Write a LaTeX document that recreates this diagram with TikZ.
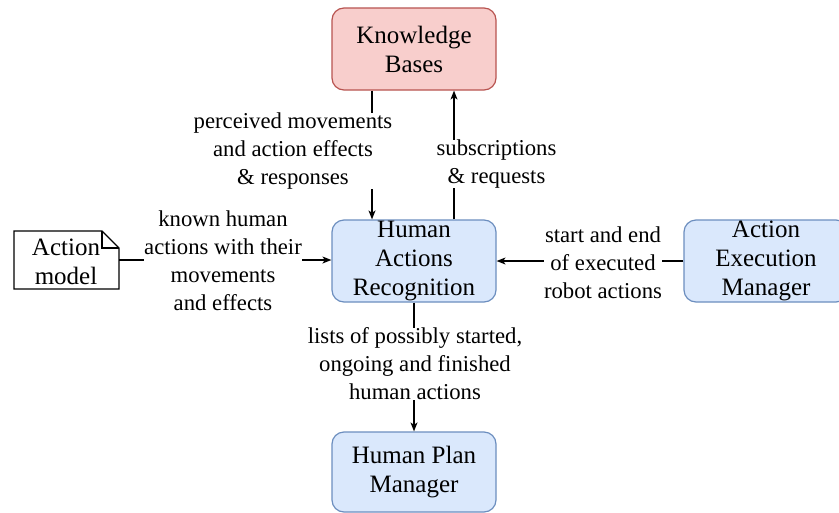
\documentclass[tikz,border=0pt]{standalone}
\usepackage{fontspec}
\setmainfont{LiberationSerif}[Extension=.ttf, UprightFont=*-Regular, BoldFont=*-Bold, ItalicFont=*-Italic, BoldItalicFont=*-BoldItalic]
\usetikzlibrary{arrows.meta}
\tikzset{
  box/.style={rectangle, rounded corners=12pt, minimum width=164pt, minimum height=82pt, align=center, inner sep=0pt, line width=1.2pt, font=\rmfamily\fontsize{25}{29}\selectfont},
  redbox/.style={box, draw={rgb,255:red,184;green,84;blue,80}, fill={rgb,255:red,248;green,206;blue,204}},
  bluebox/.style={box, draw={rgb,255:red,108;green,142;blue,191}, fill={rgb,255:red,218;green,232;blue,252}},
  notetext/.style={minimum width=104pt, minimum height=58pt, inner sep=0pt, align=center, font=\rmfamily\fontsize{25}{29}\selectfont},
  noteline/.style={line width=1.2pt},
  lab/.style={fill=white, align=center, inner sep=0pt, font=\rmfamily\fontsize{22.7}{28}\selectfont},
  conn/.style={line width=1.2pt, black},
  arr/.style={conn, -{Stealth[length=9pt,width=7pt,inset=2.5pt]}},
}
\begin{document}
\begin{tikzpicture}[x=1pt,y=-1pt]
\clip (0,0) rectangle (839,512);
\fill[white] (0,0) rectangle (839,512);
% nodes
\node[redbox] (kb) at (414,49) {Knowledge\\Bases};
\node[bluebox] (har) at (414,261) {Human\\Actions\\Recognition};
\node[bluebox] (aem) at (766,261) {Action\\Execution\\Manager};
\node[bluebox, minimum height=80pt] (hpm) at (414,472) {Human Plan\\Manager};
% note shape (Action model)
\draw[noteline, fill=white] (14,231) -- (102,231) -- (119,248) -- (119,289) -- (14,289) -- cycle;
\draw[noteline] (102,231) -- (102,248) -- (119,248);
\node[notetext] (am) at (66,262) {Action\\model};
% connectors
\draw[arr] ([xshift=-42pt]kb.south) -- ([xshift=-42pt]har.north);
\draw[arr] ([xshift=40pt]har.north) -- ([xshift=40pt]kb.south);
\draw[arr] ([xshift=1pt]am.east |- 0,260) -- (har.west |- 0,260);
\draw[arr] (aem.west) -- (har.east);
\draw[arr] (har.south) -- (hpm.north);
% labels
\node[lab] (l1) at (293,151) {perceived movements\\and action effects\\\&~responses};
\node[lab] (l2) at (496.5,164) {subscriptions\\\&~requests};
\node[lab] (l3) at (223,261) {known human\\actions with their\\movements\\and effects};
\node[lab] (l4) at (603,263) {start and end\\of executed\\robot actions};
\node[lab] (l5) at (415,364) {lists of possibly started,\\ongoing and finished\\human actions};
\end{tikzpicture}
\end{document}
